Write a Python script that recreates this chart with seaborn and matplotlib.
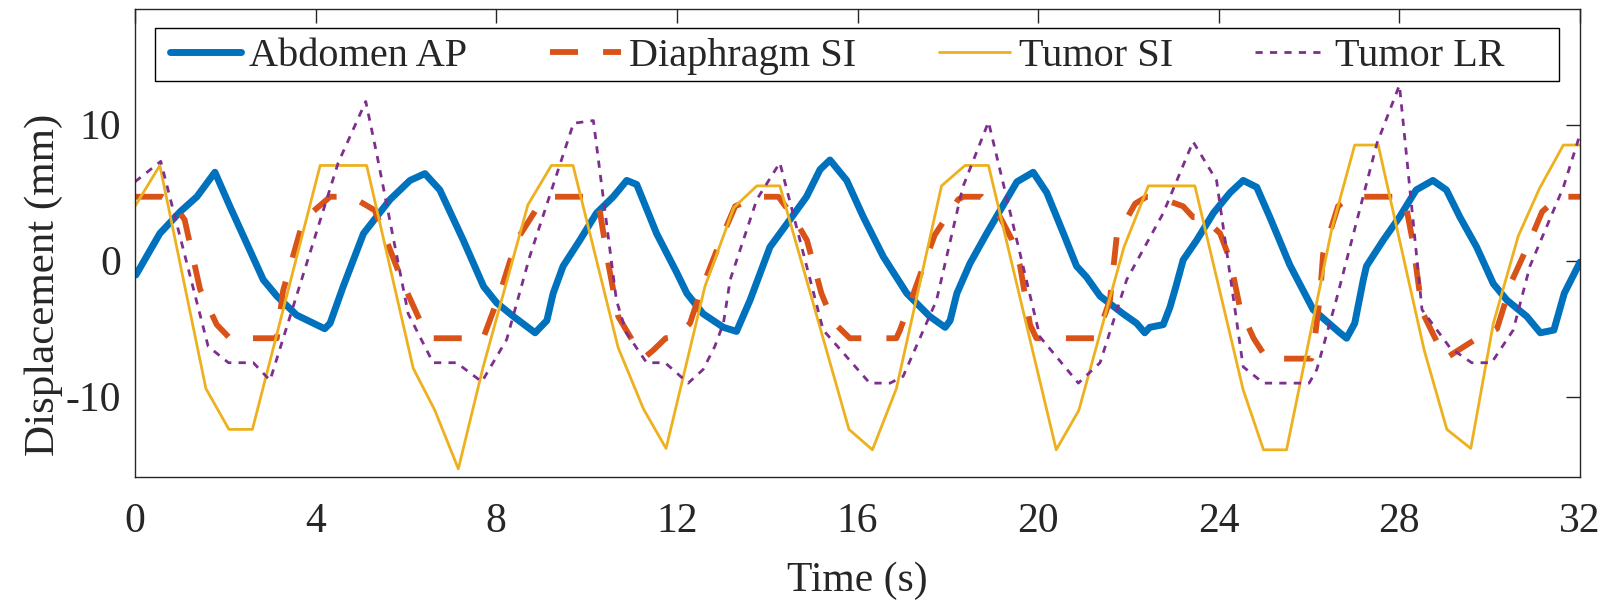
import numpy as np
import pandas as pd
import matplotlib
matplotlib.use("Agg")
import matplotlib.pyplot as plt
from matplotlib.patches import Rectangle
import seaborn as sns

# values (time in s, displacement in mm)
abdomen_t = [0.02, 0.55, 1.0, 1.37, 1.77, 2.1, 2.47, 2.84, 3.14, 3.58, 4.2, 4.32, 4.61,
             5.06, 5.65, 6.09, 6.42, 6.75, 7.27, 7.72, 8.01, 8.38, 8.86, 9.12, 9.26,
             9.48, 9.85, 10.22, 10.59, 10.89, 11.11, 11.55, 12.0, 12.22, 12.58, 13.03,
             13.32, 13.62, 14.06, 14.5, 14.87, 15.17, 15.39, 15.76, 16.13, 16.57, 17.09,
             17.6, 17.94, 18.05, 18.2, 18.49, 18.86, 19.3, 19.53, 19.89, 20.19, 20.56,
             20.85, 21.07, 21.37, 21.88, 22.18, 22.36, 22.47, 22.77, 22.92, 23.05, 23.21,
             23.51, 23.88, 24.25, 24.54, 24.84, 25.13, 25.57, 26.09, 26.68, 26.83, 27.01,
             27.2, 27.27, 27.64, 28.0, 28.37, 28.74, 29.04, 29.34, 29.71, 30.08, 30.38,
             30.82, 31.12, 31.42, 31.65, 32.0]
abdomen_v = [-1.05, 2.0, 3.6, 4.7, 6.5, 4.0, 1.3, -1.4, -2.6, -4.0, -5.0, -4.6, -1.9,
             2.0, 4.5, 5.9, 6.4, 5.2, 1.5, -1.9, -3.1, -4.1, -5.3, -4.4, -2.4,
             -0.4, 1.5, 3.5, 4.7, 5.9, 5.6, 2.0, -0.9, -2.4, -3.9, -4.9,
             -5.2, -2.9, 1.0, 3.0, 4.7, 6.7, 7.4, 5.9, 3.2, 0.3, -2.4,
             -4.1, -4.9, -4.4, -2.4, -0.2, 2.0, 4.5, 5.8, 6.5, 5.0, 2.0,
             -0.4, -1.2, -2.6, -3.9, -4.6, -5.3, -4.9, -4.7, -3.4, -1.9, 0.05,
             1.5, 3.5, 5.0, 5.9, 5.4, 3.2, -0.3, -3.6, -5.3, -5.7, -4.6,
             -1.4, -0.4, 1.5, 3.2, 5.2, 5.9, 5.2, 3.2, 1.0, -1.7, -2.9,
             -4.1, -5.3, -5.1, -2.4, -0.1]

diaphragm_t = [0.0, 0.6, 0.85, 1.1, 1.44, 1.81, 2.1, 3.14, 3.28, 3.73, 4.32, 4.8, 5.31,
               5.94, 6.31, 6.57, 7.71, 8.08, 8.45, 8.9, 9.3, 10.15, 10.3, 10.48, 10.7,
               11.11, 11.29, 11.47, 11.75, 12.0, 12.29, 12.51, 13.03, 13.29, 13.77, 14.25,
               14.58, 14.88, 15.2, 15.46, 15.83, 16.86, 16.94, 17.24, 17.71, 18.23, 18.34,
               18.75, 19.11, 19.41, 19.6, 19.82, 19.96, 21.29, 21.59, 21.74, 22.15, 22.4,
               22.62, 23.21, 23.43, 23.65, 24.03, 24.25, 24.47, 24.77, 25.06, 26.05, 26.09,
               26.24, 26.31, 26.64, 26.9, 28.07, 28.14, 28.29, 28.47, 28.54, 28.88, 29.02,
               29.2, 29.72, 30.16, 30.5, 30.83, 31.16, 31.53, 32.0]
diaphragm_v = [4.7, 4.7, 4.2, 3.0, -2.1, -4.7, -5.7, -5.7, -2.2, 3.0, 4.7, 4.7, 3.7,
               -1.7, -4.4, -5.7, -5.7, -2.4, 1.5, 3.85, 4.7, 4.7, 3.5, -0.2, -4.1,
               -6.4, -7.1, -6.6, -5.7, -5.6, -4.6, -2.4, 2.0, 4.0, 4.7, 4.7,
               3.2, 1.5, -2.4, -4.5, -5.7, -5.7, -5.1, -2.4, 1.9, 4.5, 4.7,
               4.7, 3.5, 1.6, -0.4, -4.7, -5.7, -5.7, -2.9, 1.8, 4.2, 4.7,
               4.7, 4.0, 3.2, 3.2, 2.0, 0.05, -3.5, -5.7, -7.2, -7.2, -6.7,
               -2.6, 0.5, 4.0, 4.7, 4.7, 4.1, 1.5, -2.9, -4.0, -6.3, -7.2,
               -6.8, -5.7, -5.0, -1.4, 1.0, 3.6, 4.7, 4.7]

tumor_si_t = [0.0, 0.55, 1.57, 2.08, 2.6, 4.1, 5.13, 6.16, 6.64, 7.16, 7.71, 8.7, 9.22,
              9.7, 10.7, 11.26, 11.76, 12.62, 13.26, 13.77, 14.28, 15.81, 16.33, 16.86,
              17.86, 18.38, 18.9, 20.4, 20.9, 21.9, 22.44, 23.47, 24.54, 24.99, 25.5,
              26.5, 27.01, 27.53, 28.55, 29.05, 29.58, 30.08, 30.63, 31.1, 31.63, 32.0]
tumor_si_v = [4.0, 7.0, -9.4, -12.4, -12.4, 7.0, 7.0, -7.9, -11.0, -15.3, -7.8, 4.1, 7.0,
              7.0, -6.4, -10.9, -13.8, -1.9, 3.9, 5.5, 5.5, -12.4, -13.9, -9.4,
              5.5, 7.0, 7.0, -13.9, -11.0, 1.0, 5.5, 5.5, -9.5, -13.9, -13.9,
              2.3, 8.5, 8.5, -6.6, -12.4, -13.8, -4.6, 1.8, 5.3, 8.5, 8.5]

tumor_lr_t = [0.0, 0.57, 1.62, 2.07, 2.62, 2.99, 4.5, 5.11, 5.35, 6.05, 6.31, 6.6, 7.12,
              7.68, 8.23, 8.74, 9.71, 10.15, 10.66, 10.88, 11.33, 11.74, 12.25, 12.58,
              12.84, 13.03, 13.18, 13.77, 14.28, 15.24, 16.27, 16.72, 17.01, 17.75, 18.33,
              18.9, 20.04, 20.89, 21.37, 21.96, 22.77, 23.43, 23.95, 24.54, 24.99, 26.0,
              26.17, 26.6, 27.5, 28.0, 28.5, 29.12, 29.6, 30.04, 30.52, 30.89, 31.63, 32.0]
tumor_lr_v = [5.8, 7.3, -6.3, -7.5, -7.5, -8.8, 7.2, 11.7, 7.9, -3.9, -5.6, -7.5, -7.5,
              -8.9, -5.8, 0.3, 10.1, 10.3, -2.9, -5.3, -7.5, -7.5, -9.0, -8.0,
              -6.3, -4.6, -1.4, 4.5, 7.2, -5.1, -9.0, -9.0, -8.5, -2.9, 5.4,
              10.2, -5.6, -9.0, -7.5, -1.4, 3.5, 8.75, 5.9, -7.8, -9.0, -9.0,
              -8.0, -2.9, 8.6, 12.9, -3.6, -6.4, -7.5, -7.5, -5.1, -0.4, 5.4, 9.3]

labels = ["Abdomen AP", "Diaphragm SI", "Tumor SI", "Tumor LR"]
colors = ["#0072BD", "#D95319", "#EDB120", "#7E2F8E"]

sns.set_style("white")
plt.rcParams["font.family"] = ["Liberation Serif", "DejaVu Serif"]
plt.rcParams["axes.unicode_minus"] = False

fig, ax = plt.subplots(figsize=(16.11, 6.0), dpi=100)
fig.subplots_adjust(left=0.0838, right=0.9808, bottom=0.205, top=0.985)

abdomen = pd.DataFrame({"t": abdomen_t, "v": abdomen_v})
diaphragm = pd.DataFrame({"t": diaphragm_t, "v": diaphragm_v})
tumor_si = pd.DataFrame({"t": tumor_si_t, "v": tumor_si_v})
tumor_lr = pd.DataFrame({"t": tumor_lr_t, "v": tumor_lr_v})

sns.lineplot(data=abdomen, x="t", y="v", ax=ax, color=colors[0], linewidth=5.0,
             label=labels[0], solid_joinstyle="round", solid_capstyle="round")
sns.lineplot(data=diaphragm, x="t", y="v", ax=ax, color=colors[1], linewidth=4.2,
             linestyle=(0, (4.8, 4.3)), label=labels[1])
sns.lineplot(data=tumor_si, x="t", y="v", ax=ax, color=colors[2], linewidth=2.0,
             label=labels[2])
sns.lineplot(data=tumor_lr, x="t", y="v", ax=ax, color=colors[3], linewidth=2.0,
             linestyle=(0, (2.6, 2.6)), label=labels[3])

ax.set_xlim(0, 32)
ax.set_ylim(-15.9, 18.5)
ax.set_xticks(np.arange(0, 33, 4))
ax.set_yticks([-10, 0, 10])
ax.set_xlabel("Time (s)", fontsize=30, labelpad=15)
ax.set_ylabel("Displacement (mm)", fontsize=31)
ax.yaxis.set_label_coords(-0.050, 0.41)
ax.tick_params(direction="in", length=10, width=1.0, colors="#262626",
               labelsize=30, top=True, right=True)
ax.tick_params(axis="x", pad=18)
ax.tick_params(axis="y", pad=10)
for sp in ax.spines.values():
    sp.set_visible(True)
    sp.set_color("#262626")
    sp.set_linewidth(1.0)

# legend box spans nearly the full axes width, items packed to the left
frame = Rectangle((0.0138, 0.846), 0.9716, 0.113, transform=ax.transAxes,
                  facecolor="white", edgecolor="black", linewidth=1.0, zorder=4.9)
ax.add_patch(frame)
leg = ax.legend(loc="center left", bbox_to_anchor=(0.0201, 0.899), ncol=4,
                fontsize=29, frameon=False, borderpad=0.15, handlelength=1.75,
                handletextpad=0.22, columnspacing=2.05, borderaxespad=0.0)
leg.set_zorder(5)

fig.savefig("out.png", dpi=100)
